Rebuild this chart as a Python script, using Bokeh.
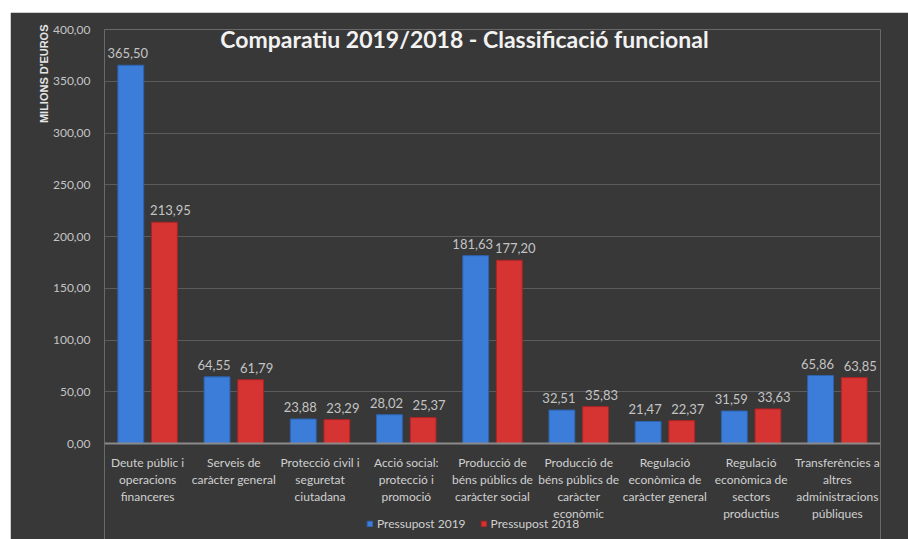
from bokeh.plotting import figure
from bokeh.models import (ColumnDataSource, FactorRange, Range1d, Label, Legend, LegendItem,
                          FixedTicker, LabelSet, Spacer, Title)
from bokeh.transform import dodge
from bokeh.layouts import column, row
from bokeh.embed import file_html
from bokeh.resources import INLINE
from bokeh.core.properties import value

# ---------------- data ----------------
categories = [
    "Deute públic i\noperacions\nfinanceres",
    "Serveis de\ncaràcter general",
    "Protecció civil i\nseguretat\nciutadana",
    "Acció social:\nprotecció i\npromoció",
    "Producció de\nbéns públics de\ncaràcter social",
    "Producció de\nbéns públics de\ncaràcter\neconòmic",
    "Regulació\neconòmica de\ncaràcter general",
    "Regulació\neconòmica de\nsectors\nproductius",
    "Transferències a\naltres\nadministracions\npúbliques",
]
pressupost_2019 = [365.50, 64.55, 23.88, 28.02, 181.63, 32.51, 21.47, 31.59, 65.86]
pressupost_2018 = [213.95, 61.79, 23.29, 25.37, 177.20, 35.83, 22.37, 33.63, 63.85]
series_names = ["Pressupost 2019", "Pressupost 2018"]
y_ticks = [0, 50, 100, 150, 200, 250, 300, 350, 400]

title_text = "Comparatiu 2019/2018 - Classificació funcional"
y_title = "MILIONS D'EUROS"

def fmt(v):
    return f"{v:.2f}".replace(".", ",")

src = ColumnDataSource(dict(
    cat=categories,
    v19=pressupost_2019,
    v18=pressupost_2018,
    l19=[fmt(v) for v in pressupost_2019],
    l18=[fmt(v) for v in pressupost_2018],
))

BLUE = "#3b7dd8"
RED = "#d63333"
BG = "#383838"
FONT = "Lato"

# frame extends below zero so the category labels and legend sit inside it
p = figure(
    x_range=FactorRange(*categories, range_padding=0),
    y_range=Range1d(-92.5, 400),
    width=898, height=527,
    min_border_left=94, min_border_right=28, min_border_top=17, min_border_bottom=0,
    output_backend="svg", toolbar_location=None, title_location=None,
)
p.background_fill_color = BG
p.border_fill_color = BG
p.outline_line_color = None
p.outline_line_alpha = 0

r19 = p.vbar(x=dodge("cat", -0.195, range=p.x_range), top="v19", width=0.3, source=src,
             fill_color=BLUE, line_color="#2d62ad", line_width=1)
r18 = p.vbar(x=dodge("cat", 0.195, range=p.x_range), top="v18", width=0.3, source=src,
             fill_color=RED, line_color="#a82424", line_width=1)

# value labels
lab_kw = dict(text_font=value(FONT), text_font_size="13px", text_color="#c4c4c4",
              text_align="center", text_baseline="bottom", source=src, y_offset=7)
p.add_layout(LabelSet(x=dodge("cat", -0.195, range=p.x_range), y="v19", text="l19",
                      x_offset=-3, **lab_kw))
p.add_layout(LabelSet(x=dodge("cat", 0.195, range=p.x_range), y="v18", text="l18",
                      x_offset=6, **lab_kw))

# axes
p.yaxis.ticker = FixedTicker(ticks=y_ticks)
p.yaxis.major_label_overrides = {t: fmt(t) for t in y_ticks}
p.yaxis.major_label_text_font = FONT
p.yaxis.major_label_text_font_size = "12px"
p.yaxis.major_label_text_color = "#c4c4c4"
p.yaxis.axis_line_color = None
p.yaxis.axis_line_alpha = 0
p.yaxis.major_tick_line_color = None
p.yaxis.minor_tick_line_color = None
p.yaxis.major_label_standoff = 8

p.xaxis.fixed_location = 0
p.xaxis.axis_line_color = "#8a8a8a"
p.xaxis.axis_line_width = 2
p.xaxis.major_tick_line_color = None
p.xaxis.minor_tick_line_color = None
p.xaxis.major_label_text_font = FONT
p.xaxis.major_label_text_font_size = "12px"
p.xaxis.major_label_text_line_height = 1.14
p.xaxis.major_label_text_color = "#d0d0d0"
p.xaxis.major_label_standoff = 5

p.xgrid.grid_line_color = None
p.ygrid.grid_line_color = "#5c5c5c"
p.ygrid.grid_line_width = 1

# y axis title (vertical, at the top of the left side)
p.add_layout(Title(text=y_title, align="right", text_font="Liberation Sans",
                   text_font_size="11px", text_font_style="bold",
                   text_color="#e6e6e6", standoff=0, offset=-5), "left")

# chart title inside frame
p.add_layout(Label(x=360, y=501, x_units="screen", y_units="screen", text=title_text,
                   text_font=FONT, text_font_size="23px", text_font_style="bold",
                   text_color="#f2f2f2", text_align="center", text_baseline="middle"))

legend = Legend(items=[LegendItem(label=series_names[0], renderers=[r19]),
                       LegendItem(label=series_names[1], renderers=[r18])],
                orientation="horizontal", location=(262, 8),
                glyph_width=7, glyph_height=7, label_text_font=FONT,
                label_text_font_size="12px", label_text_color="#d0d0d0",
                background_fill_alpha=0, border_line_color=None,
                padding=0, margin=0, spacing=14, label_standoff=4, label_height=14)
p.add_layout(legend, "center")

layout = column(Spacer(height=12), row(Spacer(width=10), p))
open("out.html", "w").write(file_html(layout, INLINE))
